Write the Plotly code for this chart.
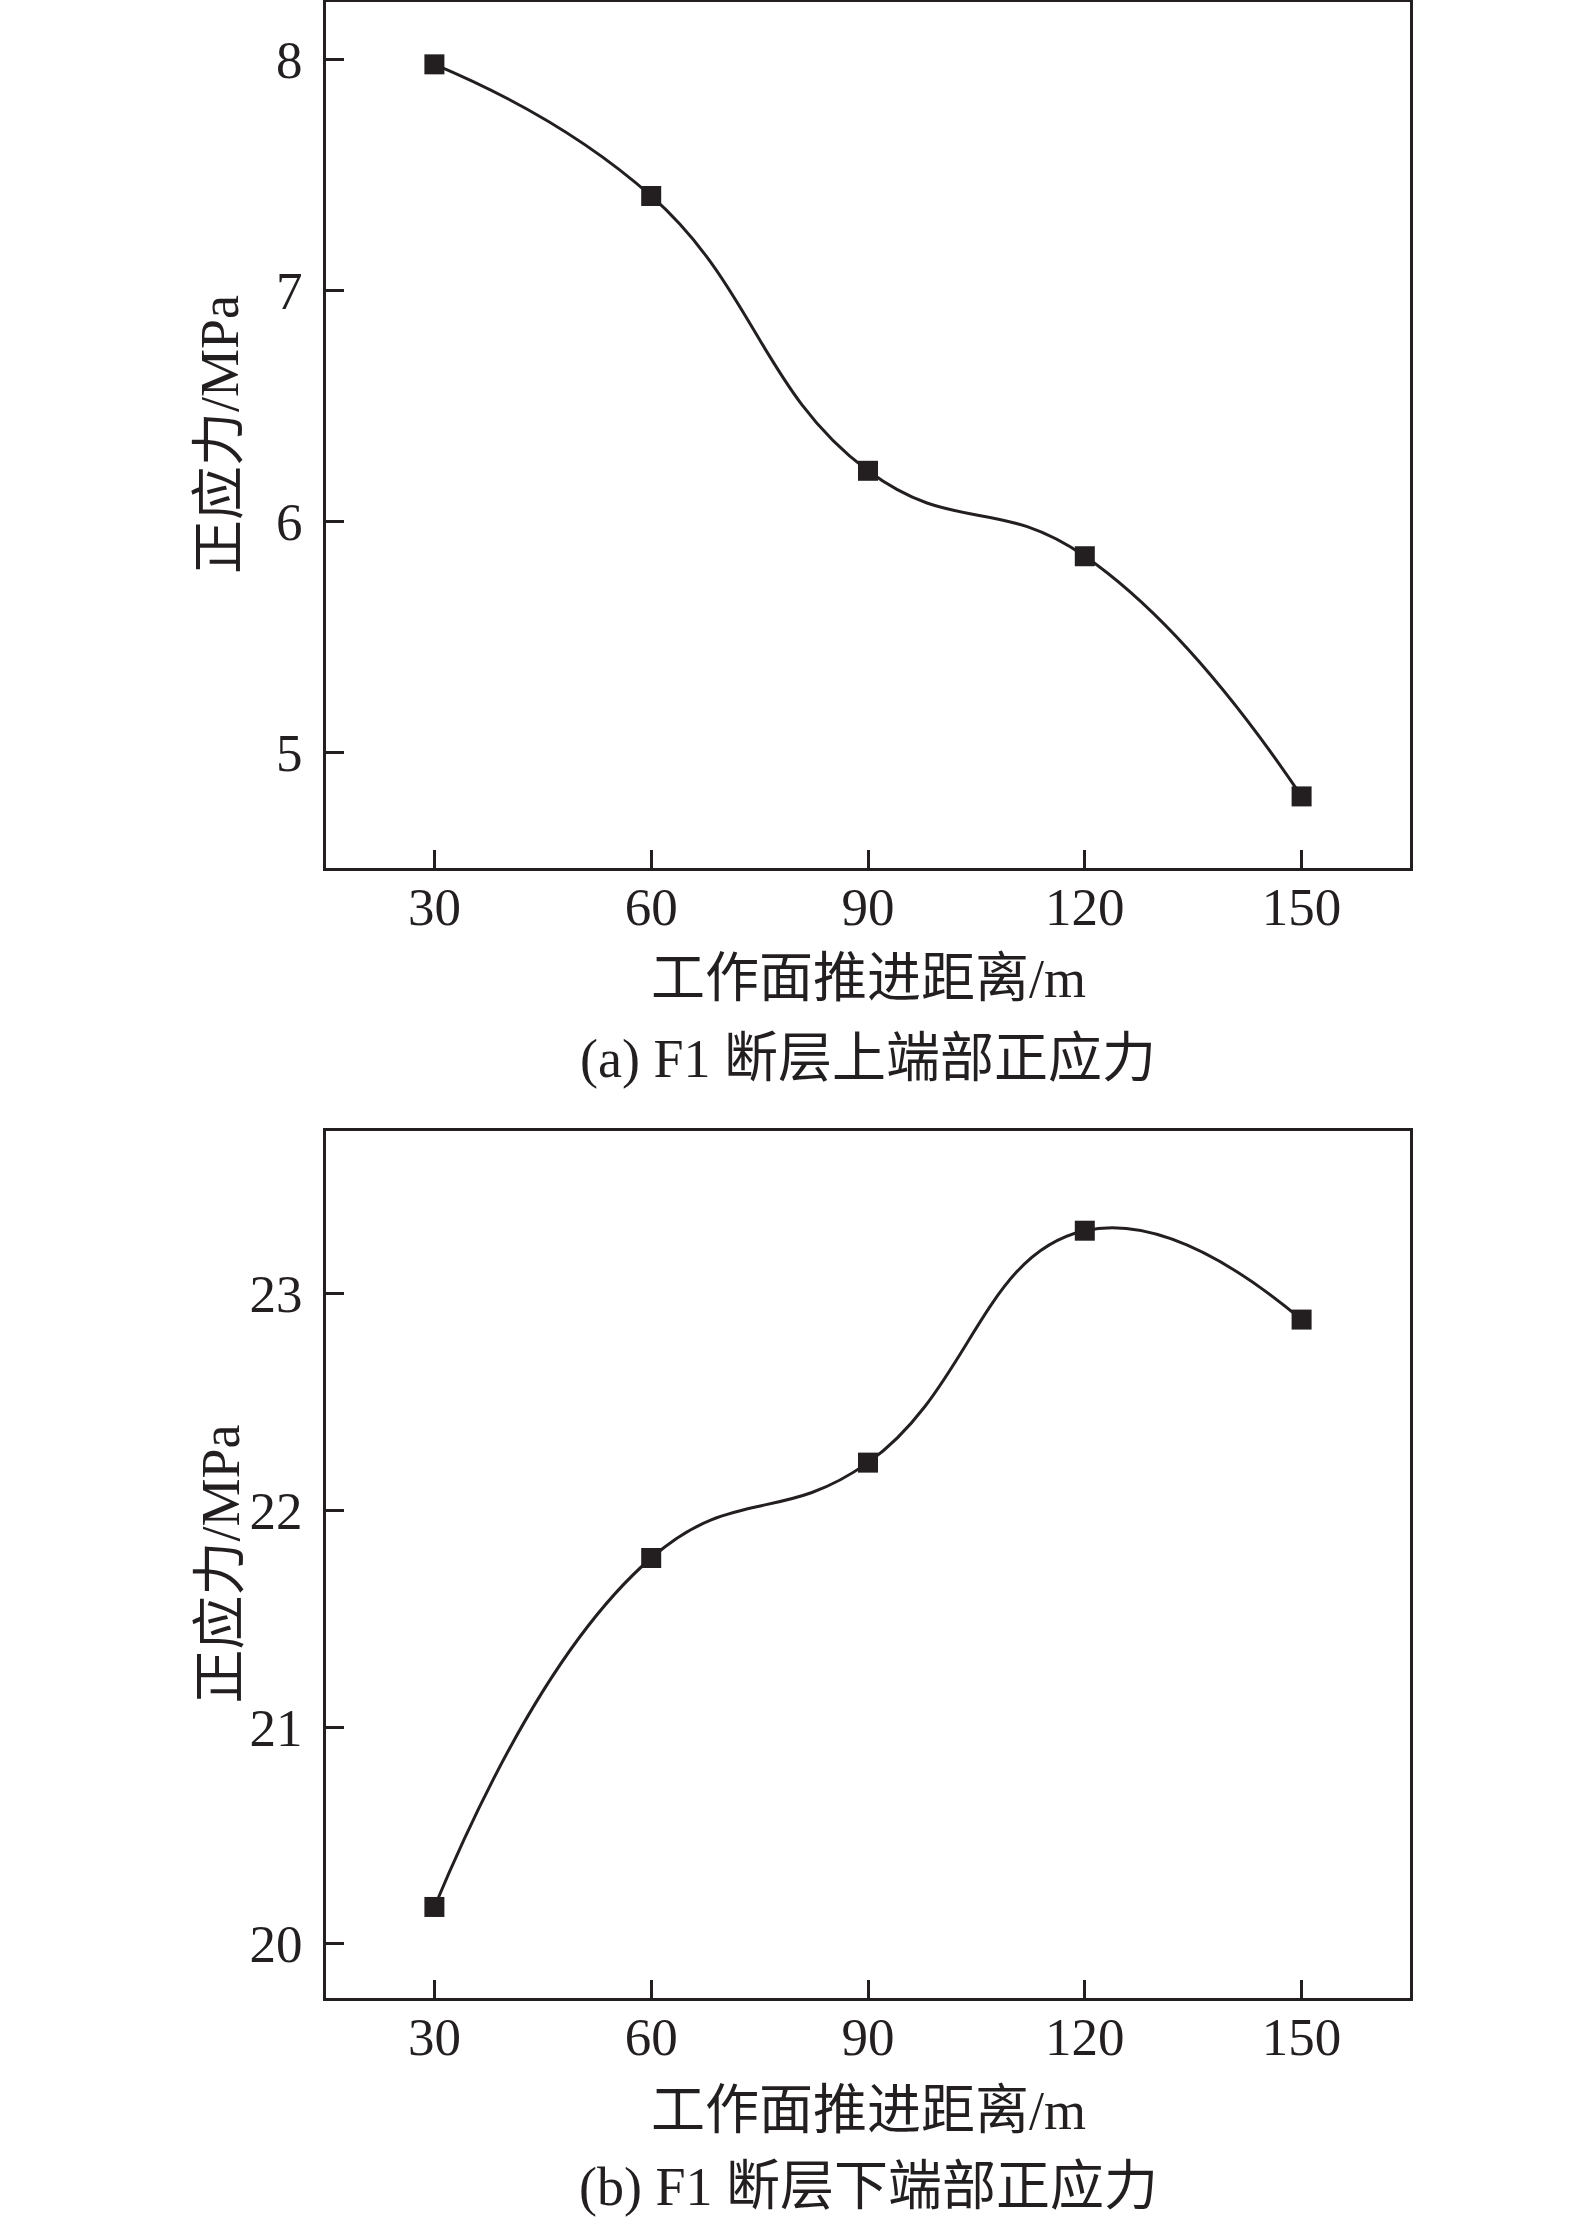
import plotly.graph_objects as go

distance = [30, 60, 90, 120, 150]
stress_upper = [7.98, 7.41, 6.22, 5.85, 4.81]
stress_lower = [20.17, 21.78, 22.22, 23.29, 22.88]
x_ticks = [30, 60, 90, 120, 150]
y_ticks_a = [5, 6, 7, 8]
y_ticks_b = [20, 21, 22, 23]

x_title = "工作面推进距离/m"
y_title = "正应力/MPa"
cap_a = "(a) F1 断层上端部正应力"
cap_b = "(b) F1 断层下端部正应力"

INK = "#231f20"
FONT = "Liberation Serif, Times New Roman, Noto Sans CJK SC, serif"

fig = go.Figure()
fig.add_trace(go.Scatter(x=distance, y=stress_upper, mode="lines+markers",
                         line=dict(shape="spline", smoothing=1.3, color=INK, width=3),
                         marker=dict(symbol="square", size=20, color=INK),
                         xaxis="x", yaxis="y", showlegend=False))
fig.add_trace(go.Scatter(x=distance, y=stress_lower, mode="lines+markers",
                         line=dict(shape="spline", smoothing=1.3, color=INK, width=3),
                         marker=dict(symbol="square", size=20, color=INK),
                         xaxis="x2", yaxis="y2", showlegend=False))

xd = [326 / 1575, 1410 / 1575]
ya = [1 - 868 / 2220, 1 - 2 / 2220]
yb = [1 - 1998 / 2220, 1 - 1131 / 2220]

common = dict(showline=True, linecolor=INK, linewidth=3, mirror=True,
              ticks="inside", ticklen=18, tickwidth=3, tickcolor=INK,
              showgrid=False, zeroline=False,
              tickfont=dict(family=FONT, size=53, color=INK))
xcommon = dict(common, ticklabelstandoff=-10)
ycommon = dict(common, ticklabelstandoff=10)

fig.update_layout(
    width=1575, height=2220,
    margin=dict(l=0, r=0, t=0, b=0),
    paper_bgcolor="white", plot_bgcolor="white",
    xaxis=dict(domain=xd, anchor="y", range=[15, 165], tickvals=x_ticks, **xcommon),
    yaxis=dict(domain=ya, anchor="x", range=[4.5, 8.25], tickvals=y_ticks_a, **ycommon),
    xaxis2=dict(domain=xd, anchor="y2", range=[15, 165], tickvals=x_ticks, **xcommon),
    yaxis2=dict(domain=yb, anchor="x2", range=[19.75, 23.75], tickvals=y_ticks_b, **ycommon),
)

def ann(text, x, y, angle=0, size=54):
    fig.add_annotation(text=text, x=x, y=y, xref="paper", yref="paper",
                       showarrow=False, textangle=angle,
                       font=dict(family=FONT, size=size, color=INK),
                       xanchor="center", yanchor="middle")

xc = (xd[0] + xd[1]) / 2
ann(x_title, xc, 1 - 979 / 2220)
ann(cap_a, xc, 1 - 1059 / 2220)
ann(x_title, xc, 1 - 2111 / 2220)
ann(cap_b, xc, 1 - 2187 / 2220)
ann(y_title, 220 / 1575, (ya[0] + ya[1]) / 2, angle=-90)
ann(y_title, 220 / 1575, (yb[0] + yb[1]) / 2, angle=-90)

fig.write_html("out.html", config={"displayModeBar": False},
               post_script="document.body.style.margin='0';document.body.style.overflow='hidden';")
